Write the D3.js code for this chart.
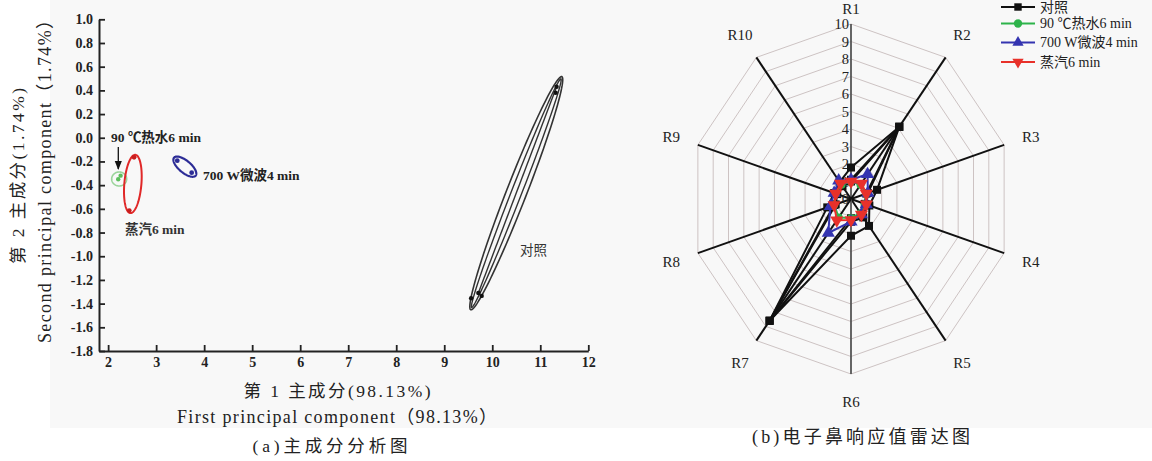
<!DOCTYPE html>
<html><head><meta charset="utf-8">
<script src="https://cdn.jsdelivr.net/npm/d3@7"></script>
<style>
body{margin:0;background:#fff;}
svg{display:block;}
</style></head><body>
<svg id="c" width="1152" height="461"></svg>
<script>
// ---------- DATA: PCA (a) ----------
const xTicks = [2,3,4,5,6,7,8,9,10,11,12];
const yTicks = [1.0,0.8,0.6,0.4,0.2,0.0,-0.2,-0.4,-0.6,-0.8,-1.0,-1.2,-1.4,-1.6,-1.8];
const groups = ["对照","90 ℃热水6 min","700 W微波4 min","蒸汽6 min"];
// sample scores [PC1, PC2]
const ctrlPoints = [[11.34,0.43],[11.32,0.38],[9.56,-1.355],[9.71,-1.31],[9.78,-1.335]];
const hotPoints = [[2.21,-0.35],[2.26,-0.32]];
const microPoints = [[3.44,-0.193],[3.74,-0.295]];
const steamPoints = [[2.54,-0.165],[2.44,-0.615]];
// confidence ellipses: center, semi-axis vector A, semi-axis vector B (data units)
const ctrlEllipse = {c:[10.50,-0.468], a:[0.948,0.984], b:[0.194,-0.031]};
const ctrlEllipseInner = {c:[10.50,-0.468], a:[0.93,0.965], b:[0.10,-0.016]};
const hotEllipse = {c:[2.23,-0.348], a:[0.156,0], b:[0,0.059]};
const microEllipse = {c:[3.598,-0.244], a:[0.225,-0.076], b:[-0.08,-0.039]};
const steamEllipse = {c:[2.515,-0.39], a:[0.052,0.246], b:[0.177,-0.006]};

// ---------- DATA: radar (b) ----------
const sensors = ["R1","R2","R3","R4","R5","R6","R7","R8","R9","R10"];
const rTicks = [0,1,2,3,4,5,6,7,8,9,10];
const ctrlA = [1.8,5.1,1.7,1.2,1.9,2.1,8.6,1.55,1.1,1.2];
const ctrlB = [1.1,5.1,1.1,1.0,1.3,1.3,8.6,1.1,1.0,1.0];
const ctrlC = [1.0,5.1,1.0,0.9,1.1,1.1,8.6,1.0,0.9,0.9];
const hotVals = [1.0,1.0,1.0,0.9,1.0,1.1,1.3,1.1,1.0,1.0];
const microVals = [1.1,1.75,1.1,1.0,1.1,1.3,2.4,1.35,1.1,1.3];
const steamVals = [1.0,1.1,1.0,1.0,1.1,1.2,1.5,1.1,1.0,1.1];

const svg = d3.select("#c");
const SERIF = '"Liberation Serif","Noto Sans CJK SC",serif';
const CJK = '"Liberation Serif","Noto Sans CJK SC",sans-serif';

svg.append("rect").attr("x",50).attr("y",0).attr("width",1102).attr("height",428).attr("fill","#f8f8f8");

// ================= (a) PCA =================
const x = d3.scaleLinear().domain([1.81,12]).range([99,588.3]);
const y = d3.scaleLinear().domain([-1.8,1.0]).range([351,19.3]);

const gx = svg.append("g").attr("transform","translate(0,351)")
  .call(d3.axisBottom(x).tickValues(xTicks).tickFormat(d3.format("d")).tickSizeInner(-6).tickSizeOuter(0).tickPadding(6));
const gy = svg.append("g").attr("transform","translate(99,0)")
  .call(d3.axisLeft(y).tickValues(yTicks).tickFormat(d3.format(".1f")).tickSizeInner(-6).tickSizeOuter(0).tickPadding(6));
[gx,gy].forEach(g=>{
  g.select(".domain").attr("stroke","#222").attr("stroke-width",2);
  g.selectAll(".tick line").attr("stroke","#222").attr("stroke-width",1.8);
  g.selectAll(".tick text").attr("font-family",SERIF).attr("font-weight","bold").attr("font-size",14).attr("fill","#222");
});
gy.selectAll(".tick text").text(d=>d3.format(".1f")(d).replace("−","-"));

function ellipsePath(e){
  const pts = d3.range(0,361,3).map(t=>{
    const r = t*Math.PI/180;
    return [x(e.c[0]+Math.cos(r)*e.a[0]+Math.sin(r)*e.b[0]), y(e.c[1]+Math.cos(r)*e.a[1]+Math.sin(r)*e.b[1])];
  });
  return d3.line()(pts)+"Z";
}
svg.append("path").attr("d",ellipsePath(ctrlEllipse)).attr("fill","none").attr("stroke","#333").attr("stroke-width",1.6);
svg.append("path").attr("d",ellipsePath(ctrlEllipseInner)).attr("fill","none").attr("stroke","#333").attr("stroke-width",1.4);
svg.append("line").attr("x1",x(ctrlPoints[0][0])).attr("y1",y(ctrlPoints[0][1])).attr("x2",x(ctrlPoints[3][0])).attr("y2",y(ctrlPoints[3][1])).attr("stroke","#333").attr("stroke-width",1.4);
svg.append("path").attr("d",ellipsePath(hotEllipse)).attr("fill","none").attr("stroke","#9bd49b").attr("stroke-width",1.6);
svg.append("path").attr("d",ellipsePath(microEllipse)).attr("fill","none").attr("stroke","#2c2c96").attr("stroke-width",2.2);
svg.append("path").attr("d",ellipsePath(steamEllipse)).attr("fill","none").attr("stroke","#e02828").attr("stroke-width",2);

function dots(pts,col,r){
  svg.append("g").selectAll("circle").data(pts).join("circle")
    .attr("cx",d=>x(d[0])).attr("cy",d=>y(d[1])).attr("r",r).attr("fill",col);
}
dots(ctrlPoints,"#111",2.2);
dots(hotPoints,"#5cbf5c",2.2);
dots(microPoints,"#2c2c96",2.4);
dots(steamPoints,"#c81e1e",2.4);

// annotations
svg.append("text").attr("x",111).attr("y",141.5).attr("font-family",CJK).attr("font-weight","bold").attr("font-size",13.5).attr("fill","#222").text(groups[1]);
svg.append("text").attr("x",203).attr("y",179.5).attr("font-family",CJK).attr("font-weight","bold").attr("font-size",13.5).attr("fill","#222").text(groups[2]);
svg.append("text").attr("x",125).attr("y",233.5).attr("font-family",CJK).attr("font-weight","bold").attr("font-size",13.5).attr("fill","#333").text(groups[3]);
svg.append("text").attr("x",520).attr("y",254.5).attr("font-family",CJK).attr("font-size",13.5).attr("fill","#333").text(groups[0]);
svg.append("defs").append("marker").attr("id","ah").attr("viewBox","0 0 10 10").attr("refX",9).attr("refY",5)
  .attr("markerWidth",7).attr("markerHeight",7).attr("orient","auto")
  .append("path").attr("d","M0,1L10,5L0,9Z").attr("fill","#111");
svg.append("line").attr("x1",118.3).attr("y1",147).attr("x2",118.3).attr("y2",169).attr("stroke","#111").attr("stroke-width",1.3).attr("marker-end","url(#ah)");

// axis titles
svg.append("text").attr("x",337).attr("y",397).attr("text-anchor","middle").attr("font-family",CJK).attr("font-size",17.5).attr("fill","#222").attr("textLength",187).text("第 1 主成分(98.13%)");
svg.append("text").attr("x",337).attr("y",423).attr("text-anchor","middle").attr("font-family",SERIF).attr("font-size",18).attr("fill","#222").attr("textLength",320).text("First principal component（98.13%）");
svg.append("text").attr("x",330).attr("y",452).attr("text-anchor","middle").attr("font-family",CJK).attr("font-size",17.5).attr("fill","#222").attr("textLength",155).text("(a)主成分分析图");
svg.append("text").attr("transform","translate(24,176) rotate(-90)").attr("text-anchor","middle").attr("font-family",CJK).attr("font-size",17.5).attr("fill","#222").attr("textLength",176).text("第 2 主成分(1.74%)");
svg.append("text").attr("transform","translate(51,177) rotate(-90)").attr("text-anchor","middle").attr("font-family",SERIF).attr("font-size",18).attr("fill","#222").attr("textLength",332).text("Second principal component（1.74%）");

// ================= (b) radar =================
const cx = 851, cy = 199, rx = 161, ry = 175;
const rs = d3.scaleLinear().domain([0,10]).range([0,1]);
const ang = d3.scaleLinear().domain([0,sensors.length]).range([0,2*Math.PI]);
const P = (i,v)=>[cx + rx*rs(v)*Math.sin(ang(i)), cy - ry*rs(v)*Math.cos(ang(i))];
const rg = svg.append("g");
// grid rings
rTicks.filter(t=>t>0).forEach(t=>{
  rg.append("path").attr("d",d3.line()(sensors.map((s,i)=>P(i,t)))+"Z")
    .attr("fill","none").attr("stroke","#cdc3c3").attr("stroke-width",1);
});
// spokes
sensors.forEach((s,i)=>{
  const e = P(i,10);
  const main = (i===0||i===5);
  rg.append("line").attr("x1",cx).attr("y1",cy).attr("x2",e[0]).attr("y2",e[1])
    .attr("stroke",main?"#555":"#111").attr("stroke-width",main?1.8:2);
  let l = [cx + (rx+28)*Math.sin(ang(i)), cy - (ry+28)*Math.cos(ang(i))];
  if(i===0) l[1] = 8.5;
  rg.append("text").attr("x",l[0]).attr("y",l[1]).attr("dy","0.35em").attr("text-anchor","middle")
    .attr("font-family",SERIF).attr("font-size",15).attr("fill","#222").text(s);
});
// radial tick labels
rTicks.forEach(t=>{
  rg.append("text").attr("x",cx-2).attr("y",P(0,t)[1]).attr("dy","0.35em").attr("text-anchor","end")
    .attr("font-family",SERIF).attr("font-size",14.5).attr("fill","#222").text(t);
});
const radarLine = vals => d3.line()(vals.map((v,i)=>P(i,v)))+"Z";
function series(vals,col,shape,size,rot){
  rg.append("path").attr("d",radarLine(vals)).attr("fill","none").attr("stroke",col).attr("stroke-width",2);
  rg.append("g").selectAll("path").data(vals).join("path")
    .attr("transform",(v,i)=>`translate(${P(i,v)[0]},${P(i,v)[1]}) rotate(${rot})`)
    .attr("d",d3.symbol().type(shape).size(size)).attr("fill",col);
}
series(ctrlC,"#111",d3.symbolSquare,64,0);
series(ctrlB,"#111",d3.symbolSquare,64,0);
series(ctrlA,"#111",d3.symbolSquare,64,0);
series(hotVals,"#2db34a",d3.symbolCircle,50,0);
series(microVals,"#3434b0",d3.symbolTriangle,75,0);
series(steamVals,"#e8312a",d3.symbolTriangle,75,180);

// legend
const legItems = [
  {name:groups[0],col:"#111",shape:d3.symbolSquare,rot:0},
  {name:groups[1],col:"#2db34a",shape:d3.symbolCircle,rot:0},
  {name:groups[2],col:"#3434b0",shape:d3.symbolTriangle,rot:0},
  {name:groups[3],col:"#e8312a",shape:d3.symbolTriangle,rot:180}
];
const legY = [7,23.5,42.5,62];
const lg = svg.append("g");
legItems.forEach((d,i)=>{
  const yy = legY[i];
  lg.append("line").attr("x1",1001).attr("x2",1035).attr("y1",yy).attr("y2",yy).attr("stroke",d.col).attr("stroke-width",2);
  lg.append("path").attr("transform",`translate(1018,${yy}) rotate(${d.rot})`).attr("d",d3.symbol().type(d.shape).size(55)).attr("fill",d.col);
  lg.append("text").attr("x",1040).attr("y",yy).attr("dy","0.35em").attr("font-family",CJK).attr("font-size",14).attr("fill","#222").text(d.name);
});
svg.append("text").attr("x",861).attr("y",443).attr("text-anchor","middle").attr("font-family",CJK).attr("font-size",18).attr("fill","#222").attr("textLength",218).text("(b)电子鼻响应值雷达图");
</script></body></html>
